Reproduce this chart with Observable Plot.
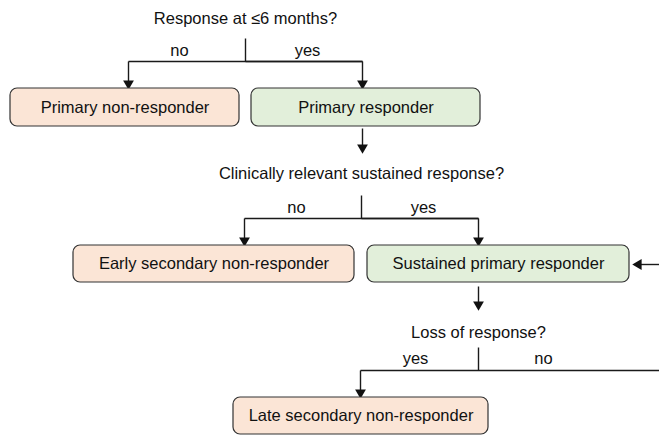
<!DOCTYPE html>
<html><head><meta charset="utf-8">
<script src="https://cdn.jsdelivr.net/npm/d3@7"></script>
<script src="https://cdn.jsdelivr.net/npm/@observablehq/plot@0.6"></script>
<style>body{margin:0;background:#fff}</style>
</head><body><div id="chart"></div>
<script>
// Nodes (boxes) in diagram pixel units
const boxLabels = ["Primary non-responder","Primary responder","Early secondary non-responder","Sustained primary responder","Late secondary non-responder"];
const boxKind = ["non","resp","non","resp","non"];
const boxX1 = [10, 251, 73, 367, 233];
const boxX2 = [239, 480, 354, 629, 488];
const boxY1 = [88, 88, 245, 245, 397];
const boxY2 = [126, 126, 282, 282, 434];

// Questions
const questions = ["Response at ≤6 months?","Clinically relevant sustained response?","Loss of response?"];
const questionX = [245, 361, 478];
const questionY = [18, 173, 332];

// Branch labels
const branchLabels = ["no","yes","no","yes","yes","no"];
const branchX = [179, 307, 296, 423, 415, 543];
const branchY = [50, 50, 207, 207, 358, 358];

// Connector segments
const segX1 = [245,128,128,362,362, 361,244,244,478,478, 478,360,360, 637, 362, 478];
const segY1 = [38, 61, 61, 61, 61,  195,218,218,218,218, 347,370,370, 264, 128, 286];
const segX2 = [245,362,128,362,245, 361,478,244,478,361, 478,659,360, 659, 362, 478];
const segY2 = [61, 61, 83, 83, 61,  218,218,240,240,218, 370,370,392, 264, 147, 304];

// Arrow heads
const headX = [128, 362, 362, 244, 478, 478, 360, 638];
const headY = [83, 83, 147, 240, 240, 304, 392, 264];
const headRot = [180, 180, 180, 180, 180, 180, 180, 270];

const boxes = boxLabels.map((t,i)=>({t, kind:boxKind[i], x1:boxX1[i], x2:boxX2[i], y1:boxY1[i], y2:boxY2[i]}));
const qs = questions.map((t,i)=>({t, x:questionX[i], y:questionY[i]}));
const br = branchLabels.map((t,i)=>({t, x:branchX[i], y:branchY[i]}));
const segs = segX1.map((x1,i)=>({x1, y1:segY1[i], x2:segX2[i], y2:segY2[i]}));
const heads = headX.map((x,i)=>({x, y:headY[i], r:headRot[i]}));

const font = "Liberation Sans, Arial, sans-serif";
const chart = Plot.plot({
  width: 659, height: 435,
  margin: 0,
  style: {fontFamily: font, background: "#fff"},
  x: {domain: [0, 659], axis: null},
  y: {domain: [0, 435], reverse: true, axis: null},
  color: {domain: ["non","resp"], range: ["#fbe5d6","#e2efda"]},
  marks: [
    Plot.link(segs, {x1:"x1", y1:"y1", x2:"x2", y2:"y2", stroke:"#1a1a1a", strokeWidth:1.4}),
    Plot.dot(heads, {x:"x", y:"y", symbol:"triangle", r:4, fill:"#111", stroke:"none", rotate:"r"}),
    Plot.rect(boxes, {x1:"x1", x2:"x2", y1:"y1", y2:"y2", fill:"kind", stroke:"#333", strokeWidth:1.2, rx:7, inset:0}),
    Plot.text(boxes, {x:d=>(d.x1+d.x2)/2, y:d=>(d.y1+d.y2)/2, text:"t", fontSize:16.5, fill:"#111"}),
    Plot.text(qs, {x:"x", y:"y", text:"t", fontSize:16.5, fill:"#111"}),
    Plot.text(br, {x:"x", y:"y", text:"t", fontSize:16.5, fill:"#111"})
  ]
});
document.getElementById("chart").append(chart);
</script>
</body></html>
